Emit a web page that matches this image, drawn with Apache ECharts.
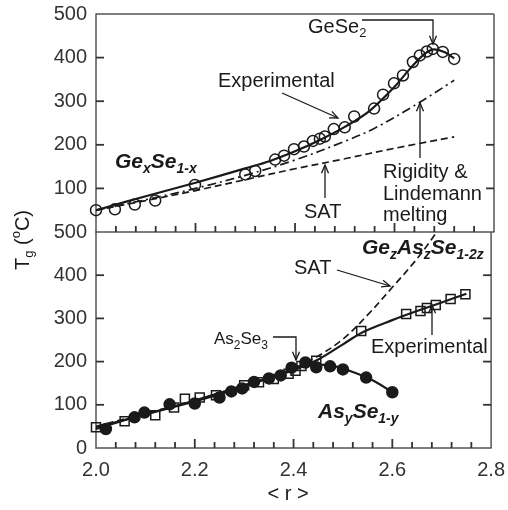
<!DOCTYPE html>
<html><head><meta charset="utf-8">
<script src="https://cdn.jsdelivr.net/npm/echarts@6/dist/echarts.min.js"></script>
<style>html,body{margin:0;padding:0;background:#fff}#c{width:508px;height:510px;background:#fff}</style>
</head><body><div id="c"></div>
<script>
// ---- data (upper panel: GexSe1-x) ----
const geseR  = [2.00,2.038,2.078,2.119,2.199,2.30,2.32,2.36,2.378,2.398,2.418,2.436,2.45,2.46,2.478,2.50,2.519,2.559,2.577,2.599,2.617,2.637,2.651,2.665,2.677,2.697,2.72];
const geseTg = [50,52,63,72,108,132,140,166,175,190,196,209,214,219,236,240,265,283,315,341,359,390,405,414,420,413,397];
const geseFitR  = [2.0,2.1,2.2,2.3,2.35,2.4,2.45,2.5,2.55,2.6,2.63,2.66,2.68,2.70,2.72];
const geseFitTg = [50,82,113,146,163,185,211,241,278,333,373,408,419,413,398];
const rigidR  = [2.0,2.1,2.2,2.3,2.4,2.5,2.56,2.64,2.72];
const rigidTg = [50,74,100,130,165,208,238,290,348];
const satUpR  = [2.0,2.1,2.2,2.3,2.4,2.5,2.6,2.72];
const satUpTg = [50,72,95,120,145,168,192,218];
// ---- data (lower panel) ----
const geasR  = [2.00,2.058,2.12,2.158,2.18,2.21,2.243,2.30,2.33,2.36,2.39,2.404,2.416,2.446,2.537,2.628,2.657,2.67,2.688,2.718,2.748];
const geasTg = [48,62,76,94,114,117,122,145,152,160,172,179,190,202,271,310,317,324,331,345,356];
const geasFitR  = [2.0,2.1,2.2,2.3,2.4,2.45,2.5,2.54,2.6,2.65,2.7,2.75];
const geasFitTg = [48,78,110,145,180,205,240,268,296,317,337,357];
const asR  = [2.02,2.078,2.098,2.149,2.20,2.25,2.274,2.296,2.32,2.35,2.374,2.396,2.424,2.446,2.474,2.50,2.547,2.60];
const asTg = [44,71,82,101,103,117,131,138,153,161,168,186,198,187,189,182,163,129];
const asFitR  = [2.0,2.1,2.2,2.3,2.4,2.44,2.48,2.52,2.56,2.6];
const asFitTg = [44,78,108,142,183,193,190,176,157,129];
const satLoR  = [2.0,2.1,2.2,2.3,2.4,2.45,2.5,2.55,2.6,2.65,2.69];
const satLoTg = [50,80,110,145,185,213,252,308,372,438,500];
const xTickVals = [2.0,2.2,2.4,2.6,2.8];
const xMinorPerMajor = 5;
const yTickVals = [0,100,200,300,400,500];

const zip = (a,b)=>a.map((v,i)=>[v,b[i]]);
const FONT = '"Liberation Sans", Arial, sans-serif';
const INK = '#1a1a1a', FRAME = '#555', TICK = '#333';
const XMIN = xTickVals[0], XMAX = xTickVals[xTickVals.length-1];
const YMIN = yTickVals[0], YMAX = yTickVals[yTickVals.length-1];

const chart = echarts.init(document.getElementById('c'));

function xAx(gi, labels){
  return {type:'value', gridIndex:gi, min:XMIN, max:XMAX, interval:0.2,
    axisLine:{show:true, onZero:false, lineStyle:{color:FRAME, width:1.5}},
    axisTick:{show:false}, minorTick:{show:false},
    splitLine:{show:false}, minorSplitLine:{show:false},
    axisLabel:{show:labels, margin:12, color:'#333', fontSize:20, fontFamily:FONT, formatter:v=>v.toFixed(1)}};
}
function yAx(gi, hideZero){
  return {type:'value', gridIndex:gi, position:'left', min:YMIN, max:YMAX, interval:100,
    axisLine:{show:true, onZero:false, lineStyle:{color:FRAME, width:1.5}},
    axisTick:{show:false},
    splitLine:{show:false},
    axisLabel:{show:true, margin:9, color:'#333', fontSize:20, fontFamily:FONT,
      formatter:v=>(hideZero && v===0)?'':String(v)}};
}
function lineS(xi, yi, data, type, w){
  return {type:'line', xAxisIndex:xi, yAxisIndex:yi, data, smooth:0.35, showSymbol:false, symbol:'none',
    lineStyle:{color:INK, width:w||2, type:type||'solid'}, z:2, silent:true};
}
function scat(xi, yi, data, symbol, size, filled){
  return {type:'scatter', xAxisIndex:xi, yAxisIndex:yi, data, symbol, symbolSize:size,
    itemStyle:{color: filled?INK:'rgba(255,255,255,0)', borderColor:INK, borderWidth:1.5, opacity:1}, z:3, silent:true};
}

chart.setOption({
  animation:false,
  grid:[
    {left:96, right:14, top:14, height:218, show:false},
    {left:96, right:14, top:232, height:216, show:false}
  ],
  xAxis:[xAx(0,false), xAx(1,true)],
  yAxis:[yAx(0,true), yAx(1,false)],
  series:[
    lineS(0,0,zip(satUpR,satUpTg),[7,4],1.7),
    lineS(0,0,zip(rigidR,rigidTg),[9,4,2,4],1.7),
    lineS(0,0,zip(geseFitR,geseFitTg),'solid',2.2),
    scat(0,0,zip(geseR,geseTg),'circle',11,false),
    lineS(1,1,zip(satLoR,satLoTg),[7,4],1.7),
    lineS(1,1,zip(geasFitR,geasFitTg),'solid',2.2),
    lineS(1,1,zip(asFitR,asFitTg),'solid',2.2),
    scat(1,1,zip(geasR,geasTg),'rect',9,false),
    scat(1,1,zip(asR,asTg),'circle',11,true)
  ]
});

// ---- frame and ticks, placed through the axes' own scales ----
const G = [];
const P = (gi, x, y) => chart.convertToPixel({gridIndex:gi}, [x, y]);
function seg(a, b, w, c){ G.push({type:'line', z:5, shape:{x1:a[0], y1:a[1], x2:b[0], y2:b[1]}, style:{stroke:c||TICK, lineWidth:w||1.8}}); }
seg(P(0,XMIN,YMAX), P(0,XMAX,YMAX), 1.5, FRAME);
[0,1].forEach(gi=>{
  seg(P(gi,XMAX,YMIN), P(gi,XMAX,YMAX), 1.5, FRAME);
  const step = (xTickVals[1]-xTickVals[0]) / xMinorPerMajor;
  const n = Math.round((XMAX-XMIN)/step);
  for (let k=1; k<n; k++){
    const p = P(gi, XMIN + k*step, YMIN);
    const len = (k % xMinorPerMajor === 0) ? 9 : 6;
    seg(p, [p[0], p[1]-len]);
  }
  yTickVals.slice(1,-1).forEach(v=>{
    const l = P(gi, XMIN, v), r = P(gi, XMAX, v);
    seg(l, [l[0]+8, l[1]]);
    seg(r, [r[0]-8, r[1]]);
  });
});

// annotations
function txt(x, y, text, rich, opts){
  G.push({type:'text', x, y, z:10, style:Object.assign({text, rich, fill:INK, font:'20px '+FONT,
    textAlign:'left', textVerticalAlign:'middle'}, opts||{})});
}
function arrow(pts){
  G.push({type:'polyline', z:10, shape:{points:pts}, style:{stroke:INK, lineWidth:1.3, fill:null}});
  const [x1,y1]=pts[pts.length-2], [x2,y2]=pts[pts.length-1];
  const a=Math.atan2(y2-y1,x2-x1), L=9, h=0.4;
  G.push({type:'polyline', z:10, shape:{points:[[x2-L*Math.cos(a-h), y2-L*Math.sin(a-h)],[x2,y2],[x2-L*Math.cos(a+h), y2-L*Math.sin(a+h)]]},
    style:{stroke:INK, lineWidth:1.3, fill:null}});
}
const baseR = {b:{fontSize:20, fontFamily:FONT, lineHeight:26, fill:INK},
  s:{fontSize:13, fontFamily:FONT, lineHeight:14, verticalAlign:'bottom', fill:INK},
  u:{fontSize:13, fontFamily:FONT, lineHeight:14, verticalAlign:'top', fill:INK}};
const boldR = {b:{fontSize:21, fontFamily:FONT, fontWeight:'bold', fontStyle:'italic', lineHeight:28, fill:INK},
  s:{fontSize:14, fontFamily:FONT, fontWeight:'bold', fontStyle:'italic', lineHeight:15, verticalAlign:'bottom', fill:INK}};

txt(308, 27, '{b|GeSe}{s|2}', baseR);
arrow([[362,20],[433,20],[433,44]]);
txt(218, 81, '{b|Experimental}', baseR);
arrow([[282,93],[338,118]]);
txt(115, 162, '{b|Ge}{s|x}{b|Se}{s|1-x}', boldR);
txt(304, 212, '{b|SAT}', baseR);
arrow([[325,198],[325,165]]);
txt(383, 172, '{b|Rigidity &}', baseR);
txt(383, 194, '{b|Lindemann}', baseR);
txt(383, 215, '{b|melting}', baseR);
arrow([[420,158],[420,103]]);
txt(362, 248, '{b|Ge}{s|z}{b|As}{s|z}{b|Se}{s|1-2z}', boldR);
txt(294, 268, '{b|SAT}', baseR);
arrow([[337,270],[390,286]]);
txt(214, 339, '{b|As}{s|2}{b|Se}{s|3}', Object.assign({}, baseR, {b:Object.assign({},baseR.b,{fontSize:17}), s:Object.assign({},baseR.s,{fontSize:12})}));
arrow([[273,337],[296,337],[296,360]]);
txt(371, 347, '{b|Experimental}', baseR);
arrow([[432,335],[432,305]]);
txt(318, 412, '{b|As}{s|y}{b|Se}{s|1-y}', boldR);
G.push({type:'text', x:23, y:240, rotation:Math.PI/2, z:10,
  style:{text:'{b|T}{s|g}{b| (}{u|o}{b|C)}', rich:baseR, textAlign:'center', textVerticalAlign:'middle', fill:INK}});
txt(288, 494, '{b|< r >}', baseR, {textAlign:'center'});

chart.setOption({graphic:G});
</script></body></html>
